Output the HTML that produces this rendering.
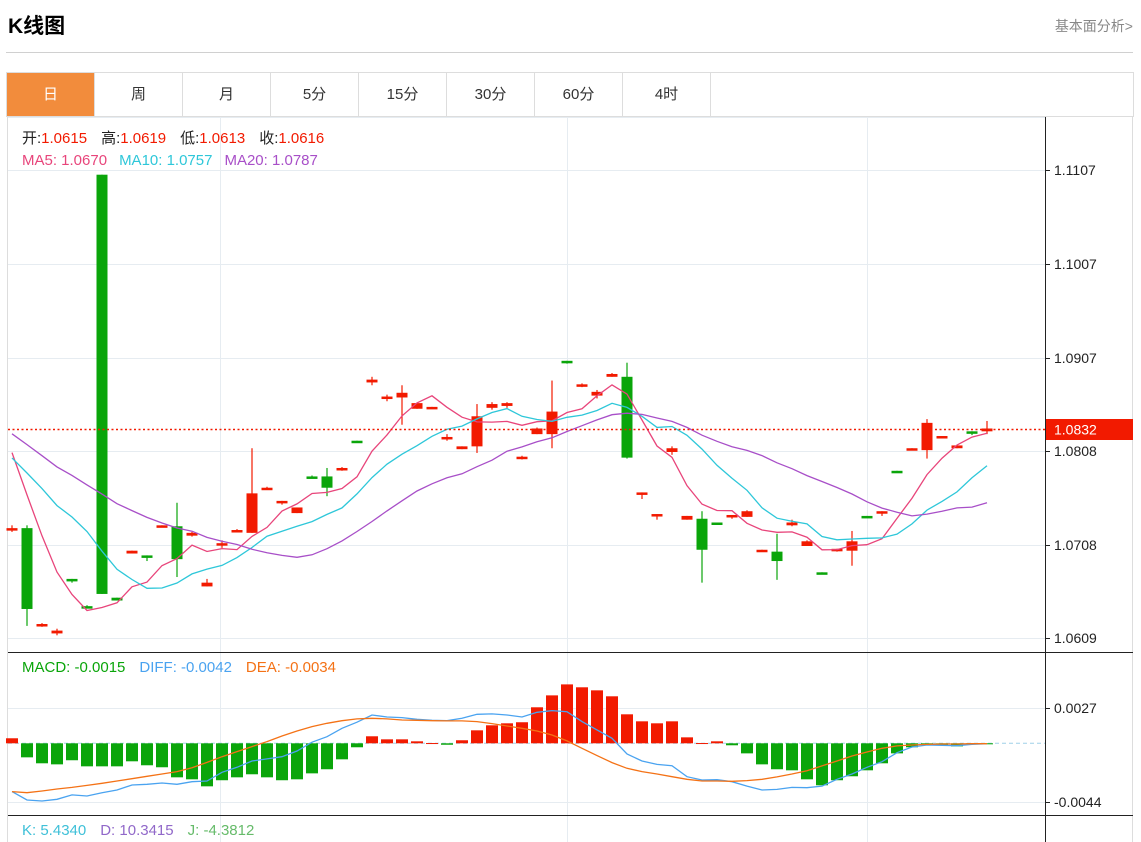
<!DOCTYPE html>
<html><head><meta charset="utf-8"><style>
body{margin:0;width:1141px;height:842px;overflow:hidden;background:#fff;font-family:"Liberation Sans","Noto Sans CJK SC",sans-serif;}
#title{position:absolute;left:8px;top:10px;font-size:21px;font-weight:bold;color:#000;}
#more{position:absolute;right:8px;top:16px;font-size:14px;color:#888;}
#sep{position:absolute;left:6px;top:52px;width:1127px;height:1px;background:#d0d0d0;}
#tabs{position:absolute;left:6px;top:72px;width:1126px;height:44px;border:1px solid #ddd;border-bottom:none;display:flex;}
.tab{width:87px;height:44px;border-right:1px solid #ddd;text-align:center;line-height:44px;font-size:15px;color:#333;}
.tab.on{background:#f28c3c;color:#fff;}
svg{position:absolute;left:0;top:0;}
</style></head><body>
<div id="title">K线图</div>
<div id="more">基本面分析&gt;</div>
<div id="sep"></div>
<div id="tabs">
<div class="tab on">日</div>
<div class="tab">周</div>
<div class="tab">月</div>
<div class="tab">5分</div>
<div class="tab">15分</div>
<div class="tab">30分</div>
<div class="tab">60分</div>
<div class="tab">4时</div>
</div>
<svg id="chart" width="1141" height="842"></svg>
<script>
const prior=[1.0870,1.0860,1.0855,1.0850,1.0845,1.0850,1.0855,1.0848,1.0840,1.0847,1.0800,1.0790,1.0798,1.0792,1.0795,1.0865,1.0842,1.0810,1.0789];
const opens=[1.0724,1.0726,1.0622,1.0614,1.0672,1.0643,1.1102,1.0652,1.0699,1.0697,1.0727,1.0728,1.0718,1.0664,1.0708,1.0722,1.0721,1.0767,1.0753,1.0742,1.0781,1.0781,1.0788,1.0819,1.0881,1.0864,1.0865,1.0853,1.0853,1.0821,1.0810,1.0813,1.0854,1.0856,1.0800,1.0826,1.0826,1.0904,1.0877,1.0867,1.0887,1.0887,1.0762,1.0739,1.0807,1.0735,1.0736,1.0732,1.0738,1.0738,1.0701,1.0701,1.0729,1.0707,1.0679,1.0702,1.0702,1.0739,1.0742,1.0787,1.0809,1.0809,1.0822,1.0811,1.0829,1.0829];
const highs=[1.0729,1.0729,1.0625,1.0619,1.0672,1.0644,1.1102,1.0652,1.0702,1.0697,1.0729,1.0753,1.0722,1.0672,1.0713,1.0725,1.0811,1.0770,1.0755,1.0748,1.0782,1.0790,1.0791,1.0819,1.0887,1.0868,1.0878,1.0859,1.0855,1.0826,1.0813,1.0858,1.0860,1.0860,1.0803,1.0833,1.0883,1.0904,1.0880,1.0873,1.0891,1.0902,1.0764,1.0741,1.0813,1.0739,1.0744,1.0732,1.0740,1.0745,1.0703,1.0720,1.0735,1.0713,1.0679,1.0704,1.0723,1.0739,1.0744,1.0787,1.0811,1.0842,1.0824,1.0814,1.0829,1.0840];
const lows=[1.0722,1.0622,1.0621,1.0612,1.0668,1.0641,1.0656,1.0649,1.0699,1.0691,1.0727,1.0674,1.0717,1.0664,1.0705,1.0722,1.0721,1.0767,1.0751,1.0742,1.0779,1.0760,1.0787,1.0817,1.0878,1.0861,1.0836,1.0853,1.0853,1.0819,1.0810,1.0806,1.0852,1.0854,1.0799,1.0826,1.0811,1.0901,1.0876,1.0864,1.0887,1.0800,1.0757,1.0735,1.0804,1.0735,1.0668,1.0730,1.0736,1.0738,1.0701,1.0671,1.0728,1.0707,1.0677,1.0701,1.0686,1.0737,1.0739,1.0785,1.0809,1.0800,1.0822,1.0811,1.0825,1.0826];
const closes=[1.0726,1.0640,1.0624,1.0617,1.0670,1.0641,1.0656,1.0649,1.0702,1.0695,1.0729,1.0693,1.0721,1.0668,1.0710,1.0724,1.0763,1.0769,1.0755,1.0748,1.0779,1.0769,1.0790,1.0817,1.0884,1.0866,1.0870,1.0859,1.0855,1.0823,1.0813,1.0845,1.0858,1.0859,1.0802,1.0832,1.0850,1.0902,1.0879,1.0871,1.0890,1.0801,1.0764,1.0741,1.0811,1.0739,1.0703,1.0730,1.0740,1.0744,1.0703,1.0691,1.0732,1.0712,1.0677,1.0704,1.0712,1.0737,1.0744,1.0785,1.0811,1.0838,1.0824,1.0814,1.0827,1.0832];
const macdHist=[0.00038,-0.00106,-0.00151,-0.00159,-0.00128,-0.00174,-0.00174,-0.00174,-0.00136,-0.00166,-0.00181,-0.00257,-0.00272,-0.00325,-0.00279,-0.00257,-0.00234,-0.00257,-0.00279,-0.00272,-0.00227,-0.00196,-0.00121,-0.00030,0.00053,0.00030,0.00030,0.00015,0.00002,-0.00011,0.00023,0.00098,0.00136,0.00151,0.00159,0.00272,0.00362,0.00445,0.00423,0.00400,0.00355,0.00219,0.00166,0.00151,0.00166,0.00045,0.00002,0.00015,-0.00015,-0.00076,-0.00159,-0.00196,-0.00204,-0.00272,-0.00317,-0.00279,-0.00249,-0.00204,-0.00151,-0.00076,-0.00030,-0.00013,-0.00015,-0.00023,-0.00008,-0.00004];
const diffVals=[-0.00365,-0.00428,-0.00436,-0.00423,-0.00390,-0.00398,-0.00373,-0.00353,-0.00315,-0.00310,-0.00300,-0.00310,-0.00290,-0.00285,-0.00219,-0.00181,-0.00134,-0.00118,-0.00101,-0.00058,0.00008,0.00050,0.00113,0.00159,0.00214,0.00199,0.00194,0.00181,0.00174,0.00171,0.00189,0.00219,0.00222,0.00214,0.00199,0.00234,0.00247,0.00239,0.00164,0.00101,0.00038,-0.00081,-0.00134,-0.00159,-0.00169,-0.00252,-0.00277,-0.00275,-0.00290,-0.00323,-0.00353,-0.00348,-0.00333,-0.00335,-0.00323,-0.00272,-0.00232,-0.00181,-0.00139,-0.00071,-0.00028,-0.00013,-0.00015,-0.00018,-0.00008,-0.00003];
const deaVals=[-0.00365,-0.00373,-0.00360,-0.00345,-0.00333,-0.00318,-0.00302,-0.00285,-0.00267,-0.00249,-0.00232,-0.00214,-0.00184,-0.00144,-0.00101,-0.00063,-0.00025,0.00013,0.00055,0.00093,0.00126,0.00151,0.00171,0.00184,0.00189,0.00184,0.00176,0.00174,0.00171,0.00169,0.00169,0.00164,0.00149,0.00131,0.00113,0.00093,0.00063,0.00018,-0.00038,-0.00093,-0.00146,-0.00189,-0.00214,-0.00232,-0.00252,-0.00272,-0.00285,-0.00285,-0.00287,-0.00282,-0.00272,-0.00254,-0.00232,-0.00207,-0.00171,-0.00134,-0.00096,-0.00066,-0.00038,-0.00020,-0.00013,-0.00008,-0.00005,-0.00005,-0.00003,-0.00003];
const priceTicks=[1.1107,1.1007,1.0907,1.0808,1.0708,1.0609];
const macdTicks=[0.0027,-0.0044];
const lastPrice=1.0832;

const svg=document.getElementById('chart');
const NS='http://www.w3.org/2000/svg';
function mk(tag,attrs,parent){const e=document.createElementNS(NS,tag);for(const k in attrs)e.setAttribute(k,attrs[k]);(parent||svg).appendChild(e);return e;}
const xAt=i=>12+15*i;
const yP=p=>170+(1.1107-p)*9400;
const yM=v=>743.3-v*13240;
const RED='#f21a00',GREEN='#0aa50a';

let g=mk('g',{});


mk('rect',{x:7.5,y:116.5,width:1125,height:730,fill:'none',stroke:'#ddd'},g);
mk('line',{x1:8,x2:1045,y1:117.5,y2:117.5,stroke:'#e6ecf1'},g);
[220.5,567.5,867.5].forEach(x=>mk('line',{x1:x,x2:x,y1:117,y2:842,stroke:'#e6ecf1'},g));
priceTicks.forEach(t=>mk('line',{x1:8,x2:1045,y1:Math.round(yP(t))+0.5,y2:Math.round(yP(t))+0.5,stroke:'#e6ecf1'},g));
macdTicks.forEach(t=>mk('line',{x1:8,x2:1045,y1:Math.round(yM(t))+0.5,y2:Math.round(yM(t))+0.5,stroke:'#e6ecf1'},g));
mk('line',{x1:1045.5,x2:1045.5,y1:117,y2:842,stroke:'#222'},g);
mk('line',{x1:8,x2:1133,y1:652.5,y2:652.5,stroke:'#222'},g);
mk('line',{x1:8,x2:1133,y1:815.5,y2:815.5,stroke:'#222'},g);

priceTicks.forEach(t=>{const y=Math.round(yP(t));
 mk('line',{x1:1045,x2:1050,y1:y+0.5,y2:y+0.5,stroke:'#222'});
 const tx=mk('text',{x:1054,y:y+5,'font-size':14,fill:'#222'});tx.textContent=t.toFixed(4);
 
 });
macdTicks.forEach(t=>{const y=Math.round(yM(t));
 mk('line',{x1:1045,x2:1050,y1:y+0.5,y2:y+0.5,stroke:'#222'});
 const tx=mk('text',{x:1054,y:y+5,'font-size':14,fill:'#222'});tx.textContent=t.toFixed(4);
 
 });

closes.forEach((c,i)=>{const o=opens[i],up=c>=o,col=up?RED:GREEN,x=xAt(i);
 const cg=mk('g',{});
 
 
 mk('line',{x1:x,x2:x,y1:yP(highs[i]),y2:yP(lows[i]),stroke:col,'stroke-width':1.2},cg);
 const t=Math.min(yP(o),yP(c)),h=Math.max(2.5,Math.abs(yP(o)-yP(c)));
 mk('rect',{x:x-5.5,y:t,width:11,height:h,fill:col},cg);});

const all=prior.concat(closes);
function ma(n){return closes.map((_,i)=>{const j=i+prior.length;let s=0;for(let k=j-n+1;k<=j;k++)s+=all[k];return s/n;});}
[[5,'#e8457b','ma5-line'],[10,'#2ec7d9','ma10-line'],[20,'#a84fc8','ma20-line']].forEach(([n,col,name])=>{
 const m=ma(n);const p=mk('polyline',{points:m.map((v,i)=>xAt(i)+','+yP(v).toFixed(1)).join(' '),fill:'none',stroke:col,'stroke-width':1.3});
 
 });

const ly=Math.round(yP(lastPrice))+0.5;
const dl=mk('line',{x1:8,x2:1045,y1:ly,y2:ly,stroke:RED,'stroke-width':1.5,'stroke-dasharray':'2,2.5'});


const lb=mk('rect',{x:1046,y:ly-10.5,width:87,height:21,fill:RED});


const lt=mk('text',{x:1054,y:ly+5,'font-size':14,fill:'#fff'});lt.textContent=lastPrice.toFixed(4);

const z=yM(0);
mk('line',{x1:8,x2:1045,y1:z,y2:z,stroke:'#9fd0e8','stroke-dasharray':'4,3'});
macdHist.forEach((v,i)=>{const y=yM(v);
 const r=mk('rect',{x:xAt(i)-6,y:Math.min(y,z),width:12,height:Math.max(1,Math.abs(y-z)),fill:v>=0?RED:GREEN});
 
 });
[[diffVals,'#4aa3f0','diff-line'],[deaVals,'#f47216','dea-line']].forEach(([arr,col,name])=>{
 const p=mk('polyline',{points:arr.map((v,i)=>xAt(i)+','+yM(v).toFixed(1)).join(' '),fill:'none',stroke:col,'stroke-width':1.3});
 
 });
</script>
<svg width="1141" height="842" style="pointer-events:none">
<text x="22" y="143" font-size="15"><tspan fill="#222">开:</tspan><tspan fill="#f21a00">1.0615</tspan><tspan fill="#222" dx="14">高:</tspan><tspan fill="#f21a00">1.0619</tspan><tspan fill="#222" dx="14">低:</tspan><tspan fill="#f21a00">1.0613</tspan><tspan fill="#222" dx="14">收:</tspan><tspan fill="#f21a00">1.0616</tspan></text>
<text x="22" y="165" font-size="15"><tspan fill="#e8457b">MA5: 1.0670</tspan><tspan fill="#2ec7d9" dx="12">MA10: 1.0757</tspan><tspan fill="#a84fc8" dx="12">MA20: 1.0787</tspan></text>
<text x="22" y="672" font-size="15"><tspan fill="#0aa50a">MACD: -0.0015</tspan><tspan fill="#4aa3f0" dx="14">DIFF: -0.0042</tspan><tspan fill="#f47216" dx="14">DEA: -0.0034</tspan></text>
<text x="22" y="835" font-size="15"><tspan fill="#3fc0d8">K: 5.4340</tspan><tspan fill="#9168c9" dx="14">D: 10.3415</tspan><tspan fill="#66bb6a" dx="14">J: -4.3812</tspan></text>
</svg>
</body></html>
